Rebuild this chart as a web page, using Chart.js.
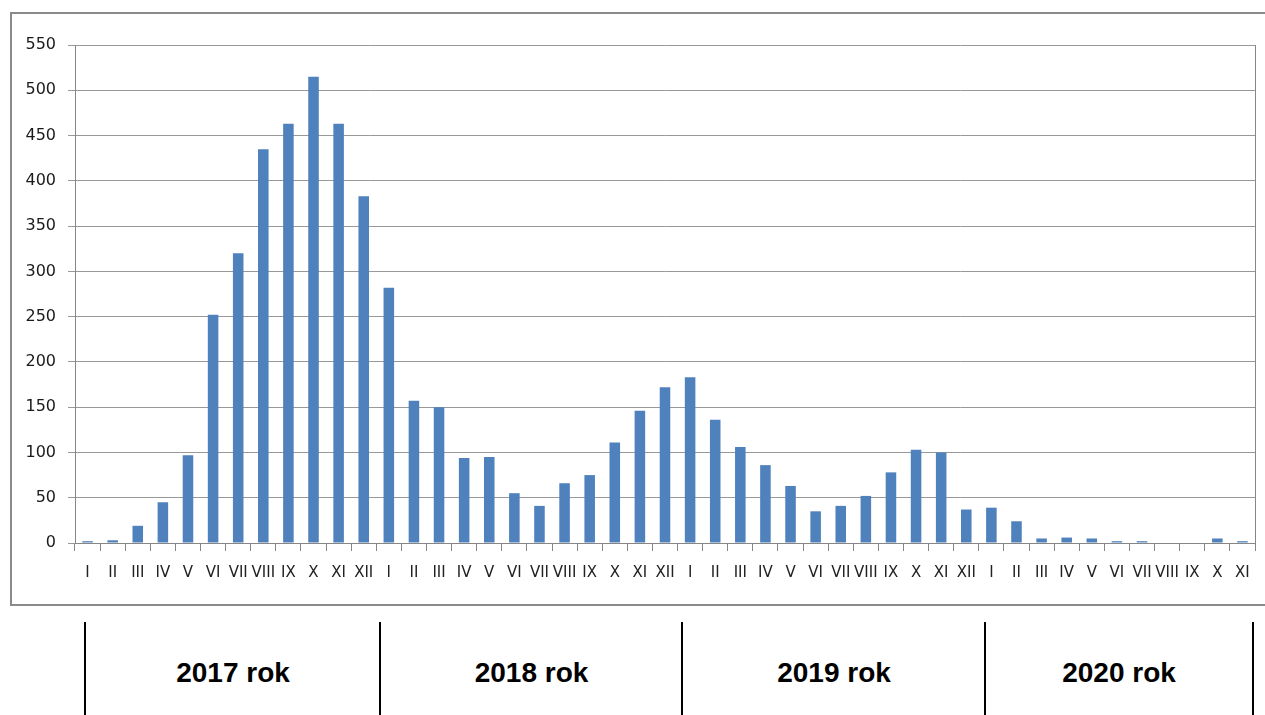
<!DOCTYPE html>
<html>
<head>
<meta charset="utf-8">
<script src="https://cdn.jsdelivr.net/npm/chart.js@4.4.1/dist/chart.umd.min.js"></script>
<style>
  body { margin: 0; background: #fff; width: 1265px; height: 715px; overflow: hidden; position: relative; }
  #frame { position: absolute; left: 10px; top: 12px; width: 1265px; height: 590px; border: 2px solid #8a8a8a; box-sizing: content-box; }
  #wrap { position: absolute; left: 0; top: 0; width: 1265px; height: 610px; }
  .year { position: absolute; top: 622px; height: 93px; border-left: 2px solid #000; box-sizing: border-box;
          font: bold 28px "Liberation Sans", Arial, sans-serif; color: #000;
          display: flex; align-items: center; justify-content: center; padding-top: 8px; }
</style>
</head>
<body>
<div id="frame"></div>
<div id="wrap"><canvas id="months-bar-chart"></canvas></div>
<div class="year" style="left:84px;width:296px">2017 rok</div>
<div class="year" style="left:379px;width:303px">2018 rok</div>
<div class="year" style="left:681px;width:304px">2019 rok</div>
<div class="year" style="left:984px;width:270px;border-right:2px solid #000">2020 rok</div>
<script>
var months = ['I', 'II', 'III', 'IV', 'V', 'VI', 'VII', 'VIII', 'IX', 'X', 'XI', 'XII'];
var labels = months.concat(months, months, months.slice(0, 11));

var values2017 = [2, 3, 19, 45, 97, 252, 320, 435, 463, 515, 463, 383];
var values2018 = [282, 157, 150, 94, 95, 55, 41, 66, 75, 111, 146, 172];
var values2019 = [183, 136, 106, 86, 63, 35, 41, 52, 78, 103, 100, 37];
var values2020 = [39, 24, 5, 6, 5, 2, 2, 0, 0, 5, 2];

var yTicks = [0, 50, 100, 150, 200, 250, 300, 350, 400, 450, 500, 550];

var data = {
    labels: labels,
    datasets: [{
        label: 'liczba',
        data: values2017.concat(values2018, values2019, values2020),
        backgroundColor: '#4f81bd',
        borderWidth: 0,
        barPercentage: 0.42,
        categoryPercentage: 1,
    }]
};

// ramka prawa strona obszaru wykresu
var plotBorder = {
    id: 'plotBorder',
    afterDraw(chart) {
        const ctx = chart.ctx, a = chart.chartArea;
        ctx.save();
        ctx.strokeStyle = '#868686';
        ctx.lineWidth = 1;
        ctx.beginPath();
        ctx.moveTo(a.right + 0.5, a.top);
        ctx.lineTo(a.right + 0.5, a.bottom);
        ctx.stroke();
        ctx.restore();
    }
};

var layout = {
    type: 'bar',
    data: data,
    options: {
        responsive: true,
        maintainAspectRatio: false,
        animation: false,
        layout: { padding: { top: 45, right: 10, left: 0, bottom: 0 } },
        plugins: {
            legend: { display: false },
            tooltip: { enabled: false },
        },
        scales: {
            x: {
                afterFit: (s) => { s.height = 67; },
                border: { color: '#868686', width: 1 },
                grid: {
                    offset: true,
                    drawOnChartArea: false,
                    drawTicks: true,
                    tickLength: 8,
                    color: '#868686',
                },
                ticks: {
                    autoSkip: false,
                    maxRotation: 0,
                    padding: 13,
                    color: '#222',
                    font: { family: 'DejaVu Sans', size: 15 },
                },
            },
            y: {
                min: 0,
                max: 550,
                afterFit: (s) => { s.width = 75; },
                afterBuildTicks: (s) => { s.ticks = yTicks.map(v => ({ value: v })); },
                border: { color: '#868686', width: 1 },
                grid: {
                    color: '#989898',
                    lineWidth: 1,
                    tickLength: 7,
                },
                ticks: {
                    padding: 12,
                    color: '#1a1a1a',
                    font: { family: 'DejaVu Sans', size: 16 },
                },
            },
        },
    },
    plugins: [plotBorder]
};

const monthsBar = document.getElementById('months-bar-chart');
new Chart(monthsBar, layout);
</script>
</body>
</html>
